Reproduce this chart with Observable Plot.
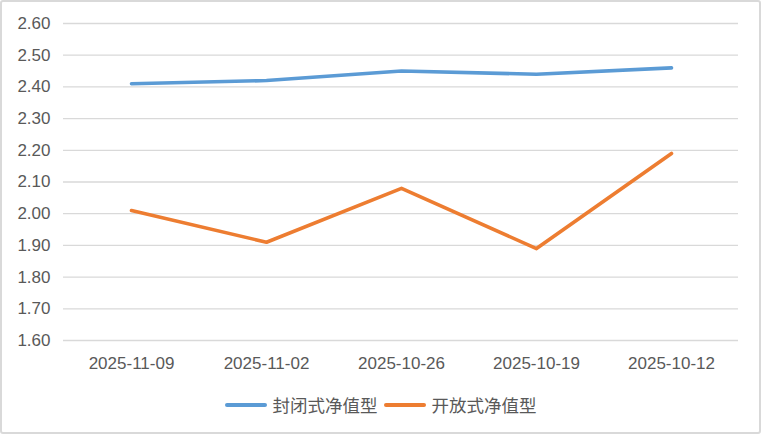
<!DOCTYPE html>
<html>
<head>
<meta charset="utf-8">
<script src="https://cdn.jsdelivr.net/npm/d3@7"></script>
<script src="https://cdn.jsdelivr.net/npm/@observablehq/plot@0.6"></script>
<style>
  html, body { margin: 0; padding: 0; background: #fff; }
  #frame { position: absolute; left: 0; top: 0; width: 761px; height: 434px; box-sizing: border-box; border: 2px solid #d9d9d9; border-radius: 3px; }
  #chart { position: absolute; left: 0; top: 0; }
  #legend { position: absolute; left: 0; top: 392px; width: 761px; display: flex; justify-content: center; align-items: center; font-family: "Noto Sans CJK SC", "Liberation Sans", sans-serif; font-size: 17.5px; color: #595959; }
  .item { display: flex; align-items: center; margin: 0 3px; }
  .sw { width: 42px; height: 4px; border-radius: 2px; margin-right: 6px; }
</style>
</head>
<body>
<div id="frame"></div>
<div id="chart"></div>
<div id="legend"></div>
<script>
const dates = ["2025-11-09", "2025-11-02", "2025-10-26", "2025-10-19", "2025-10-12"];
const seriesNames = ["封闭式净值型", "开放式净值型"];
const closedValues = [2.41, 2.42, 2.45, 2.44, 2.46];
const openValues = [2.01, 1.91, 2.08, 1.89, 2.19];
const colors = ["#5B9BD5", "#ED7D31"];
const yTicks = [1.6, 1.7, 1.8, 1.9, 2.0, 2.1, 2.2, 2.3, 2.4, 2.5, 2.6];

const rows = [];
dates.forEach((d, i) => {
  rows.push({date: d, value: closedValues[i], series: seriesNames[0]});
  rows.push({date: d, value: openValues[i], series: seriesNames[1]});
});

const chart = Plot.plot({
  width: 761,
  height: 380,
  marginLeft: 63,
  marginRight: 23,
  marginTop: 23,
  marginBottom: 40,
  style: {fontFamily: "'Liberation Sans', Arial, sans-serif", fontSize: "17px", color: "#595959", background: "transparent"},
  x: {type: "point", domain: dates, padding: 0.5, label: null},
  y: {domain: [1.6, 2.6], ticks: yTicks, label: null},
  color: {domain: seriesNames, range: colors},
  marks: [
    Plot.gridY(yTicks, {stroke: "#d9d9d9", strokeOpacity: 1, strokeWidth: 1.3}),
    Plot.axisY(yTicks, {tickSize: 0, tickPadding: 13, tickFormat: d => d.toFixed(2), fill: "#595959", fontSize: 17}),
    Plot.axisX({tickSize: 0, tickPadding: 16, fill: "#595959", fontSize: 17}),
    Plot.lineY(rows, {x: "date", y: "value", z: "series", stroke: "series", strokeWidth: 3.6, strokeLinecap: "round", strokeLinejoin: "round"})
  ]
});
document.getElementById("chart").appendChild(chart);

const legend = document.getElementById("legend");
seriesNames.forEach((name, i) => {
  const item = document.createElement("div");
  item.className = "item";
  const sw = document.createElement("div");
  sw.className = "sw";
  sw.style.background = colors[i];
  const label = document.createElement("span");
  label.textContent = name;
  item.appendChild(sw);
  item.appendChild(label);
  legend.appendChild(item);
});
</script>
</body>
</html>
